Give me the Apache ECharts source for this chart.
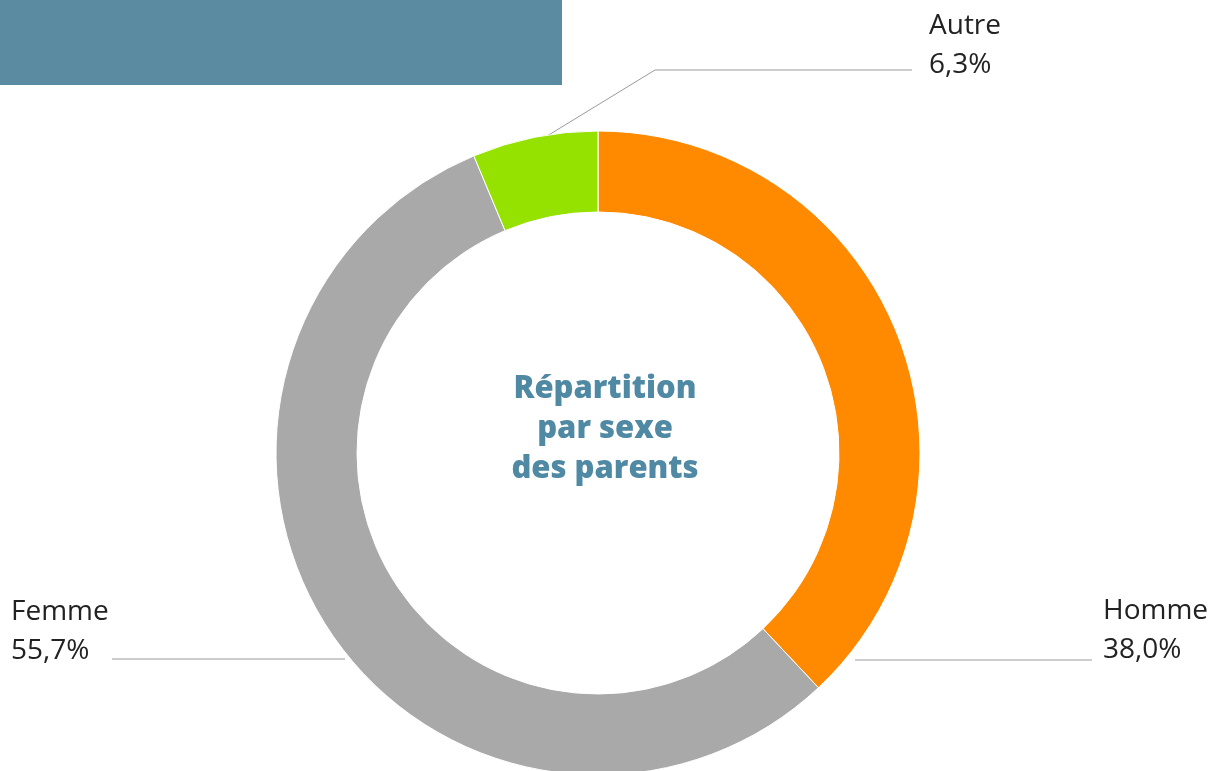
<!DOCTYPE html>
<html>
<head>
<meta charset="utf-8">
<script src="https://cdn.jsdelivr.net/npm/echarts@6/dist/echarts.min.js"></script>
<style>
  html, body { margin: 0; padding: 0; background: #fff; }
  #chart { width: 1224px; height: 771px; }
</style>
</head>
<body>
<div id="chart"></div>
<script>
// données
var categories = ['Homme', 'Femme', 'Autre'];
var values = [38.0, 55.7, 6.3];
var colors = ['#ff8a00', '#a9a9a9', '#95e200'];

// emplacement des étiquettes (coin haut-gauche du texte) et des traits
var labelPos = [
    { x: 1103, y: 592, line: [[855, 660], [855, 660], [1092, 660]] },
    { x: 11, y: 593, line: [[345, 659], [345, 659], [112, 659]] },
    { x: 929, y: 7, line: [[547, 136], [655, 70], [912, 70]] }
];

var fmt = function (v) {
    return v.toFixed(1).replace('.', ',') + '%';
};

var myChart = echarts.init(document.getElementById('chart'));

var pieData = [];
for (var i = 0; i < categories.length; i++) {
    pieData.push({
        name: categories[i],
        value: values[i],
        itemStyle: { color: colors[i] }
    });
}

var option = {
    backgroundColor: '#ffffff',
    animation: false,
    title: {
        text: 'Répartition\npar sexe\ndes parents',
        left: 600,
        top: 364,
        textAlign: 'center',
        textStyle: {
            fontFamily: 'Open Sans',
            fontWeight: 800,
            fontSize: 31,
            lineHeight: 40,
            color: '#4f89a3'
        }
    },
    graphic: [{
        type: 'rect',
        shape: { x: 0, y: 0, width: 562, height: 85 },
        style: { fill: '#5a8ba1' }
    }],
    series: [{
        type: 'pie',
        center: [598, 453],
        radius: [241, 322],
        startAngle: 90,
        clockwise: true,
        avoidLabelOverlap: false,
        itemStyle: { borderColor: '#ffffff', borderWidth: 1 },
        label: {
            show: true,
            position: 'outside',
            formatter: function (p) {
                return p.name + '\n' + fmt(p.value);
            },
            fontFamily: 'Open Sans',
            fontSize: 28,
            lineHeight: 39,
            color: '#222222',
            align: 'left'
        },
        labelLine: {
            show: true,
            lineStyle: { color: '#9a9a9a', width: 1 }
        },
        labelLayout: function (params) {
            var p = labelPos[params.dataIndex];
            return {
                x: p.x,
                y: p.y,
                align: 'left',
                verticalAlign: 'top',
                labelLinePoints: p.line
            };
        },
        emphasis: { disabled: true },
        data: pieData
    }]
};

myChart.setOption(option);
window.addEventListener('resize', function () {
    myChart.resize();
});
</script>
</body>
</html>
